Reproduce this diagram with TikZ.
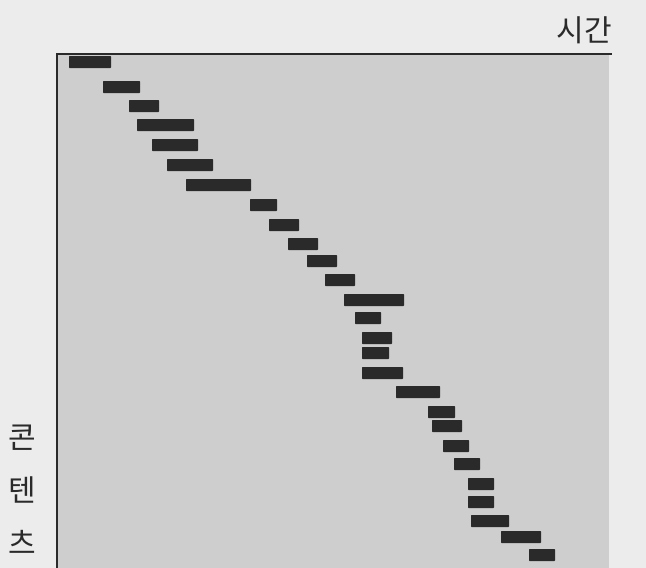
\documentclass[tikz,border=0pt]{standalone}
\usepackage{fontspec}
\newfontfamily\kofont{Noto Sans CJK KR}
\usepackage{tikz}
\usetikzlibrary{positioning}
\definecolor{pagegray}{RGB}{236,236,236}
\definecolor{boxgray}{RGB}{206,206,206}
\definecolor{inkdark}{RGB}{42,42,42}

\begin{document}
\begin{tikzpicture}[
x=1pt, y=-1pt,
texts/.style = {text=inkdark, font=\kofont\fontsize{30}{53}\selectfont, inner sep=0pt},
frameline/.style = {draw=inkdark, line width=2.8pt},
bar/.style = {fill=inkdark, rounded corners=0.6pt}
]
\fill[pagegray] (0,0) rectangle (646,568);
\useasboundingbox (0,0) rectangle (646,568);
\coordinate (corner) at (57,54);
\coordinate (axisend) at (612,54);
\coordinate (axisfoot) at (57,568);
\fill[boxgray] (corner) rectangle (609,568);
\draw[frameline] (axisfoot) -- (corner) -- (axisend);
\node[texts, anchor=south east] (time) at (612,44) {시간};
\node[texts, align=center] (content) at (22,490) {콘\\텐\\츠};
% bars
\foreach \xa/\xb/\yc in {69/111/62, 103/140/87, 129/159/106, 137/194/125,
	152/198/145, 167/213/165, 186/251/185, 250/277/205, 269/299/225,
	288/318/244, 307/337/261, 325/355/280, 344/404/300, 355/381/318,
	362/392/338, 362/389/353, 362/403/373, 396/440/392, 428/455/412,
	432/462/426, 443/469/446, 454/480/464, 468/494/484, 468/494/502,
	471/509/521, 501/541/537, 529/555/555}
{
	\fill[bar] (\xa,\yc-6) rectangle (\xb,\yc+6);
}
\end{tikzpicture}
\end{document}
